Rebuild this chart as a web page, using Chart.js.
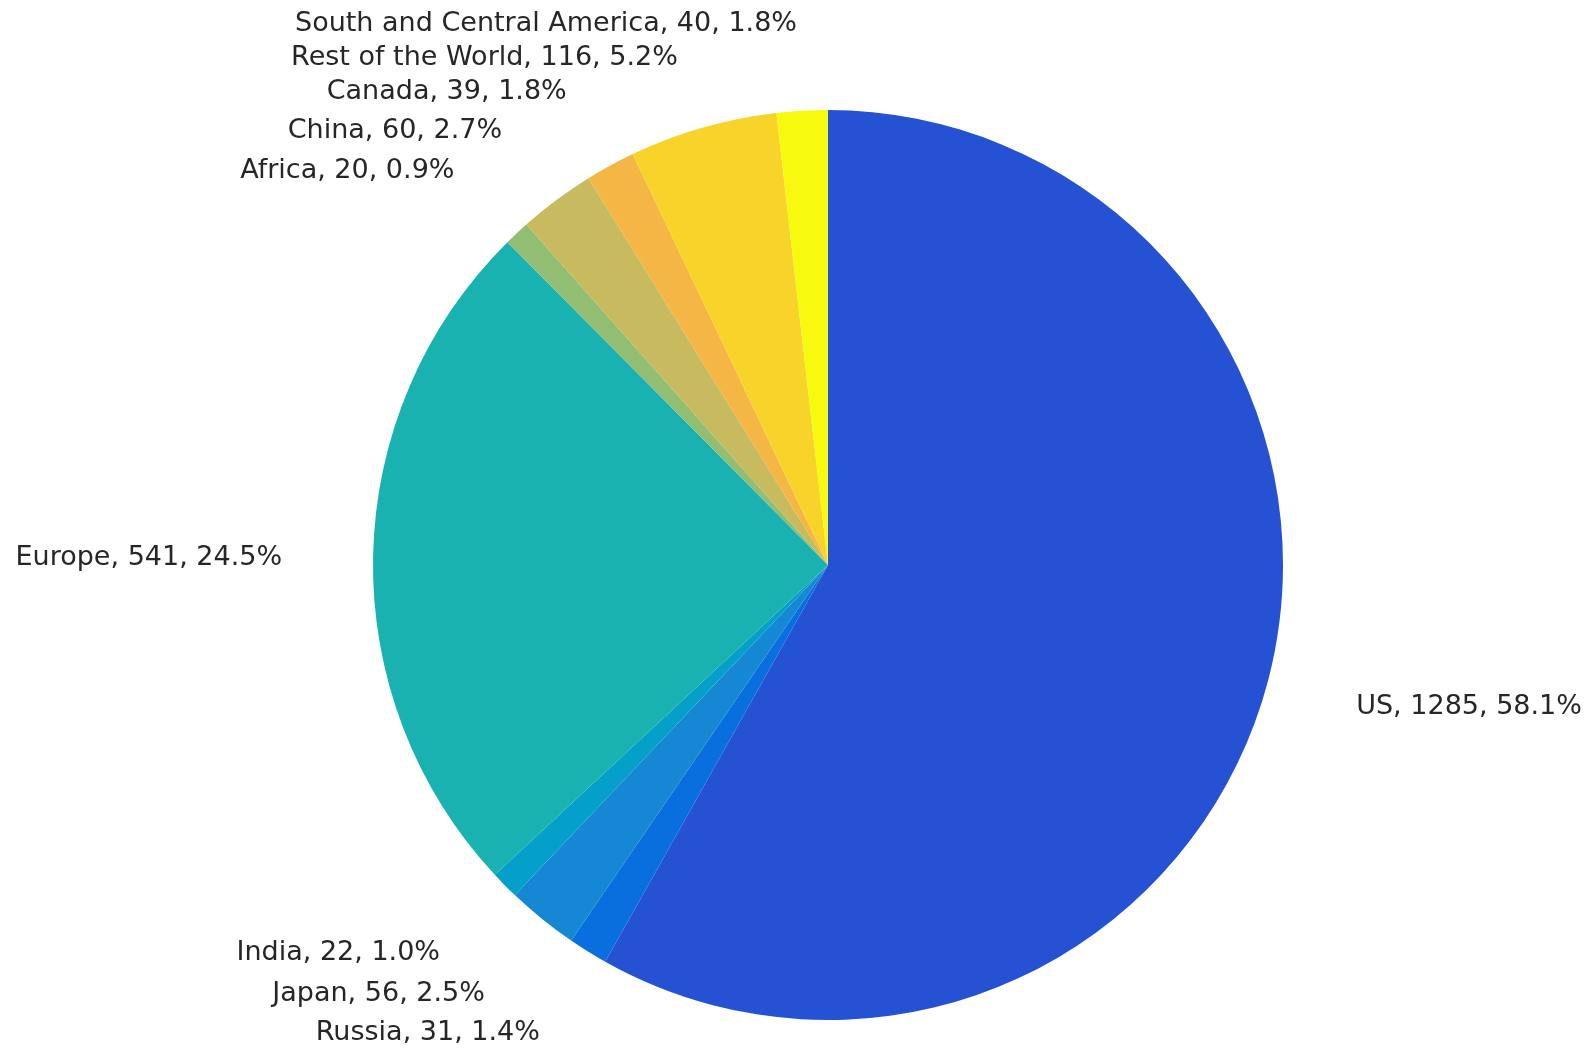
<!DOCTYPE html>
<html>
<head>
<meta charset="utf-8">
<script src="https://cdn.jsdelivr.net/npm/chart.js@4"></script>
<style>
html,body{margin:0;padding:0;background:#fff;}
#wrap{width:1589px;height:1051px;position:relative;}
</style>
</head>
<body>
<div id="wrap"><canvas id="c"></canvas></div>
<script>
const categories = ["US","Russia","Japan","India","Europe","Africa","China","Canada","Rest of the World","South and Central America"];
const values = [1285,31,56,22,541,20,60,39,116,40];
const colors = ["#2452D2","#0A6FDE","#1687D2","#05A0CA","#1AB2B0","#91BE72","#C8BA5E","#F4B644","#F8D42A","#F7F90F"];

const FONT = '27px "DejaVu Sans"';
const labelPlugin = {
  id: 'outerLabels',
  afterDraw(chart) {
    const ctx = chart.ctx;
    const meta = chart.getDatasetMeta(0);
    const data = chart.data.datasets[0].data;
    const total = data.reduce((a,b)=>a+b,0);
    const items = [];
    meta.data.forEach((arc, i) => {
      const p = arc.getProps(['x','y','startAngle','endAngle','outerRadius'], true);
      const mid = (p.startAngle + p.endAngle) / 2;
      const r = p.outerRadius * 1.2;
      const x = p.x + Math.cos(mid) * r;
      const y = p.y + Math.sin(mid) * r;
      const pct = (data[i] / total * 100).toFixed(1);
      items.push({x, y, left: x >= p.x, top: y < p.y, text: `${chart.data.labels[i]}, ${data[i]}, ${pct}%`});
    });
    const minGap = 34;
    const groups = {};
    items.forEach(it => { const k = (it.left?'L':'R') + (it.top?'T':'B'); (groups[k] = groups[k] || []).push(it); });
    Object.values(groups).forEach(g => {
      g.sort((a,b)=>a.y-b.y);
      for (let j = 1; j < g.length; j++) {
        if (g[j].y - g[j-1].y < minGap) g[j].y = g[j-1].y + minGap;
      }
    });
    ctx.save();
    ctx.font = FONT;
    ctx.fillStyle = '#262626';
    ctx.textBaseline = 'middle';
    items.forEach(it => {
      ctx.textAlign = it.left ? 'left' : 'right';
      ctx.fillText(it.text, it.x, it.y + 4);
    });
    ctx.restore();
  }
};

new Chart(document.getElementById('c'), {
  type: 'pie',
  data: {
    labels: categories,
    datasets: [{ data: values, backgroundColor: colors, borderWidth: 0 }]
  },
  options: {
    responsive: true,
    maintainAspectRatio: false,
    animation: false,
    rotation: 0,
    layout: { padding: { left: 373, right: 306, top: 110, bottom: 31 } },
    plugins: { legend: { display: false }, tooltip: { enabled: false } }
  },
  plugins: [labelPlugin]
});
</script>
</body>
</html>
